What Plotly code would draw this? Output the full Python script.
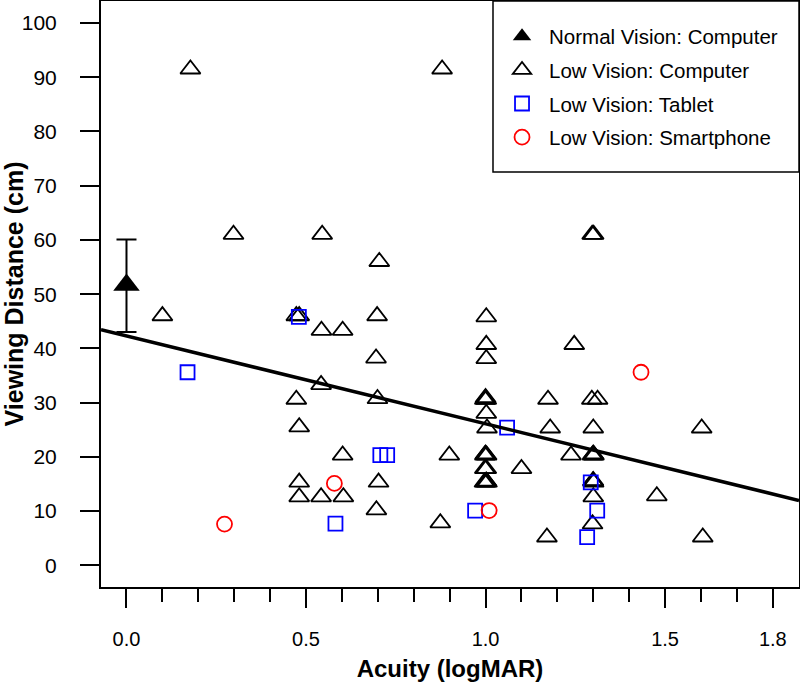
import plotly.graph_objects as go

# ---- data ----
nv_x = [0.0]
nv_y = [51.7]
nv_err_plus = [8.4]
nv_err_minus = [8.7]

lv_comp_x = [0.178, 0.879, 0.298, 0.545, 0.704, 0.100, 0.473, 0.481, 0.543, 0.602,
             0.698, 0.695, 0.542, 0.699, 0.473, 0.481, 0.602, 0.481, 0.481, 0.542,
             0.604, 0.702, 0.696, 1.002, 1.002, 1.002, 1.247, 0.998, 1.002, 1.000,
             1.002, 1.004, 0.899, 0.998, 1.000, 1.003, 0.998, 1.002, 0.997, 1.000,
             1.002, 1.004, 1.100, 1.174, 1.180, 1.238, 1.296, 1.312, 1.300, 1.298,
             1.300, 1.302, 1.299, 1.301, 1.300, 1.300, 1.298, 1.602, 1.477, 1.605,
             1.171, 0.874, 1.297, 1.301]
lv_comp_y = [91.5, 91.5, 61.0, 61.0, 56.0, 46.0, 46.0, 46.0, 43.3, 43.3,
             46.0, 38.2, 33.3, 30.7, 30.6, 25.5, 20.3, 15.3, 12.6, 12.6,
             12.6, 15.3, 10.2, 45.8, 40.7, 38.1, 40.7, 30.6, 30.6, 30.9,
             28.0, 25.3, 20.3, 20.3, 20.5, 20.3, 17.8, 17.8, 15.3, 15.3,
             15.5, 15.3, 17.8, 30.6, 25.3, 20.3, 30.6, 30.6, 25.3, 20.3,
             20.5, 20.3, 15.5, 15.3, 15.6, 12.6, 7.6, 25.3, 12.8, 5.2,
             5.2, 7.8, 61.0, 61.0]

tab_x = [0.170, 0.480, 0.582, 0.707, 0.726, 1.060, 0.971, 1.293, 1.311, 1.283]
tab_y = [35.6, 45.8, 7.7, 20.3, 20.3, 25.4, 10.1, 15.3, 10.1, 5.2]

sp_x = [0.273, 0.579, 1.010, 1.433]
sp_y = [7.6, 15.1, 10.1, 35.6]

fit_intercept = 42.3
fit_slope = -16.2

x_range = [-0.071, 1.873]
y_range = [-4.0, 104.06]

x_major = [0.0, 0.5, 1.0, 1.5, 1.8]
x_major_text = ["0.0", "0.5", "1.0", "1.5", "1.8"]
x_minor = [0.1, 0.2, 0.3, 0.4, 0.6, 0.7, 0.8, 0.9, 1.1, 1.2, 1.3, 1.4, 1.6, 1.7]
y_ticks = [0, 10, 20, 30, 40, 50, 60, 70, 80, 90, 100]

FONT = "Liberation Sans, Arial, sans-serif"

fig = go.Figure()

fig.add_trace(go.Scatter(
    x=nv_x, y=nv_y, mode="markers", name="Normal Vision: Computer",
    marker=dict(symbol="triangle-up", size=23, color="black"),
    error_y=dict(type="data", symmetric=False, array=nv_err_plus,
                 arrayminus=nv_err_minus, color="black", thickness=2, width=10),
    legendgroup="a",
))
fig.add_trace(go.Scatter(
    x=lv_comp_x, y=lv_comp_y, mode="markers", name="Low Vision: Computer",
    marker=dict(symbol="triangle-up-open", size=17.5, color="black",
                line=dict(width=1.8, color="black")),
    legendgroup="b",
))
fig.add_trace(go.Scatter(
    x=tab_x, y=tab_y, mode="markers", name="Low Vision: Tablet",
    marker=dict(symbol="square-open", size=14, color="#0000ff",
                line=dict(width=1.8, color="#0000ff")),
    legendgroup="c",
))
fig.add_trace(go.Scatter(
    x=sp_x, y=sp_y, mode="markers", name="Low Vision: Smartphone",
    marker=dict(symbol="circle-open", size=15, color="#ff0000",
                line=dict(width=1.8, color="#ff0000")),
    legendgroup="d",
))
fig.add_trace(go.Scatter(
    x=x_range, y=[fit_intercept + fit_slope * v for v in x_range],
    mode="lines", line=dict(color="black", width=3.5), showlegend=False,
    hoverinfo="skip", legendgroup="e",
))

# legend frame (drawn as a layout box)
fig.add_shape(
    type="rect", xref="paper", yref="paper",
    x0=0.5616, x1=1.0, y0=0.7082, y1=1.0,
    line=dict(color="black", width=1.5), fillcolor="white", layer="above",
)

fig.update_layout(
    width=800, height=682,
    margin=dict(l=101, r=1, t=1, b=95, autoexpand=False),
    paper_bgcolor="white", plot_bgcolor="white",
    font=dict(family=FONT, size=21, color="black"),
    legend=dict(
        x=0.5645, y=0.9915, xanchor="left", yanchor="top",
        borderwidth=0, bgcolor="rgba(0,0,0,0)",
        font=dict(family=FONT, size=20.5, color="black"),
        tracegroupgap=4, traceorder="grouped", itemwidth=44,
        title=dict(text=" ", font=dict(size=8)),
    ),
    showlegend=True,
)

fig.update_xaxes(
    range=x_range, showgrid=False, zeroline=False, automargin=False,
    showline=True, linecolor="black", linewidth=2, mirror=True,
    tickmode="array", tickvals=x_major, ticktext=x_major_text,
    ticks="outside", ticklen=19, tickwidth=2, tickcolor="black",
    ticklabelstandoff=14,
    tickfont=dict(family=FONT, size=20, color="black"),
    minor=dict(tickmode="array", tickvals=x_minor, ticks="outside",
               ticklen=13, tickwidth=2, tickcolor="black", showgrid=False),
    title=dict(text="<b>Acuity (logMAR)</b>", standoff=12,
               font=dict(family=FONT, size=24, color="black")),
)
fig.update_yaxes(
    range=y_range, showgrid=False, zeroline=False, automargin=False,
    showline=True, linecolor="black", linewidth=2, mirror=True,
    tickmode="array", tickvals=y_ticks,
    ticks="outside", ticklen=19, tickwidth=2, tickcolor="black",
    ticklabelstandoff=19,
    tickfont=dict(family=FONT, size=21, color="black"),
    title=dict(text="<b>Viewing Distance (cm)</b>", standoff=10,
               font=dict(family=FONT, size=25, color="black")),
)

fig.write_html(
    "out.html",
    config={"displayModeBar": False},
    post_script="document.body.style.margin='0';document.body.style.overflow='hidden';",
)
